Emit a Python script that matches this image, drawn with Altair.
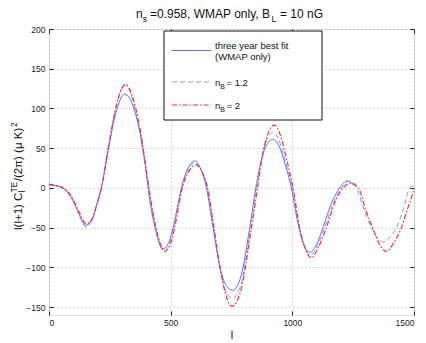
import altair as alt
import pandas as pd

# ---- data ----
l_fit = [0, 25, 50, 75, 100, 125, 150, 175, 200, 215, 243, 277, 311, 352, 393, 414, 440, 466, 490, 510,
         526, 544, 575, 599, 622, 647, 674, 700, 725, 755, 790, 825, 850, 875, 900, 920, 945, 970, 996,
         1020, 1045, 1072, 1100, 1126, 1160, 1195, 1225, 1250]
v_fit = [5, 3, 1, -5, -17, -34, -47, -41, -17, 0, 47, 97, 118, 97, 35, -15, -55, -77, -70, -50,
         -27, 0, 27, 34, 25, 0, -50, -96, -121, -129, -110, -50, 0, 38, 57, 61, 53, 30, 0,
         -40, -70, -81, -71, -50, -20, 0, 9, 4]

l_b12 = [0, 25, 50, 75, 100, 125, 150, 175, 200, 215, 243, 277, 300, 312, 328, 352, 378, 403, 428, 452,
         472, 492, 512, 527, 546, 577, 602, 624, 650, 676, 702, 728, 755, 790, 828, 853, 877, 902, 922,
         945, 972, 1000, 1025, 1050, 1075, 1102, 1133, 1168, 1202, 1230, 1263, 1295, 1325, 1350, 1373,
         1400, 1428, 1455, 1482, 1500]
v_b12 = [4, 3, 1, -5, -17, -35, -49, -42, -17, 0, 50, 103, 126, 130, 125, 101, 62, 10, -34, -66,
         -79, -73, -50, -27, 0, 25, 32, 24, 0, -50, -100, -131, -139, -120, -50, 0, 42, 65, 70,
         60, 33, 0, -44, -74, -84, -73, -50, -20, 0, 8, 0, -28, -50, -63, -68,
         -62, -50, -28, 0, 3]

l_b2 = [0, 25, 50, 75, 100, 125, 152, 175, 200, 216, 243, 277, 300, 314, 330, 355, 380, 405, 430, 455,
        475, 495, 515, 530, 548, 580, 606, 627, 652, 678, 705, 730, 752, 790, 832, 857, 880, 905, 926,
        950, 975, 1003, 1030, 1055, 1078, 1105, 1140, 1175, 1209, 1240, 1272, 1300, 1332, 1360, 1387,
        1415, 1448, 1475, 1500]
v_b2 = [4, 3, 1, -4, -15, -31, -45, -40, -17, 0, 49, 104, 126, 130, 125, 102, 64, 12, -36, -68,
        -80, -74, -52, -28, 0, 23, 29, 21, 0, -50, -104, -138, -149, -127, -50, 0, 45, 72, 79,
        67, 38, 0, -50, -78, -88, -76, -50, -18, 0, 6, 0, -26, -52, -72, -80,
        -70, -50, -25, -2]

x_ticks = [0, 500, 1000, 1500]
y_ticks = [-150, -100, -50, 0, 50, 100, 150, 200]

legend_fit_1 = "three year best fit"
legend_fit_2 = "(WMAP only)"
legend_b12 = "= 1.2"
legend_b2 = "= 2"

FONT = "Liberation Sans"
C_FIT = "#5d6dff"
C_B12 = "#8792ff"
C_B2 = "#ff2b2b"

df_fit = pd.DataFrame({"l": l_fit, "v": v_fit})
df_b12 = pd.DataFrame({"l": l_b12, "v": v_b12})
df_b2 = pd.DataFrame({"l": l_b2, "v": v_b2})
one = pd.DataFrame({"k": [0]})

xs = alt.Scale(domain=[0, 1500], nice=False, zero=False)
ys = alt.Scale(domain=[-160, 200], nice=False, zero=False)

x_main = alt.Axis(values=x_ticks, grid=True, gridDash=[1, 3], gridColor="#9a9a9a", gridWidth=0.8,
                  domain=False, ticks=True, tickSize=4, tickColor="#222", offset=-4, labelPadding=3,
                  labelFontSize=8.5, labelFont=FONT, labelColor="#222", format="d",
                  title="l", titleFont=FONT, titleFontSize=11, titleFontWeight="normal",
                  titleColor="#111", titlePadding=3)
y_main = alt.Axis(values=y_ticks, grid=True, gridDash=[1, 3], gridColor="#9a9a9a", gridWidth=0.8,
                  domain=False, ticks=True, tickSize=4, tickColor="#222", offset=-4, labelPadding=4,
                  labelFontSize=8.5, labelFont=FONT, labelColor="#222", format="d", title=None)
x_top = alt.Axis(orient="top", values=x_ticks, grid=False, domain=False, labels=False, tickSize=4,
                 tickColor="#222", offset=-4, title=None)
y_right = alt.Axis(orient="right", values=y_ticks, grid=False, domain=False, labels=False, tickSize=4,
                   tickColor="#222", offset=-4, title=None)

fit = alt.Chart(df_fit).mark_line(color=C_FIT, strokeWidth=1, interpolate="monotone").encode(
    x=alt.X("l:Q", scale=xs, axis=x_main), y=alt.Y("v:Q", scale=ys, axis=y_main))
b12 = alt.Chart(df_b12).mark_line(color=C_B12, strokeWidth=1, strokeDash=[5, 3],
                                   interpolate="monotone").encode(
    x=alt.X("l:Q", scale=xs, axis=None), y=alt.Y("v:Q", scale=ys, axis=None))
b2 = alt.Chart(df_b2).mark_line(color=C_B2, strokeWidth=1.2, strokeDash=[5, 2, 1.5, 2],
                                 interpolate="monotone").encode(
    x=alt.X("l:Q", scale=xs, axis=x_top), y=alt.Y("v:Q", scale=ys, axis=y_right))


def txt(s, x, y, size, angle=0, color="#111"):
    return alt.Chart(one).mark_text(text=s, font=FONT, fontSize=size, align="left",
                                    baseline="alphabetic", angle=angle, color=color).encode(
        x=alt.value(x), y=alt.value(y))


# legend box and samples
box = alt.Chart(one).mark_rect(fill="white", stroke="#111", strokeWidth=1).encode(
    x=alt.value(115), x2=alt.value(273), y=alt.value(2), y2=alt.value(91))
s_fit = alt.Chart(one).mark_rule(color=C_FIT, strokeWidth=1).encode(
    x=alt.value(123), x2=alt.value(162), y=alt.value(21.5))
s_b12 = alt.Chart(one).mark_rule(color=C_B12, strokeWidth=1, strokeDash=[5, 3]).encode(
    x=alt.value(123), x2=alt.value(162), y=alt.value(53))
s_b2 = alt.Chart(one).mark_rule(color=C_B2, strokeWidth=1.2, strokeDash=[5, 2, 1.5, 2]).encode(
    x=alt.value(123), x2=alt.value(162), y=alt.value(76))

legend_txt = [
    txt(legend_fit_1, 166, 19.5, 9.5), txt(legend_fit_2, 166, 31, 9.5),
    txt("n", 166, 56.5, 9.5), txt("B", 171.3, 59.5, 7), txt(legend_b12, 177.5, 56.5, 9.5),
    txt("n", 166, 79.5, 9.5), txt("B", 171.3, 82.5, 7), txt(legend_b2, 177.5, 79.5, 9.5),
]

# title with subscripts
title_txt = [
    txt("n", 87, -11, 12), txt("s", 93.8, -7, 8.5),
    txt("=0.958, WMAP only, B", 101, -11, 12), txt("L", 222.5, -7, 8.5),
    txt("= 10 nG", 231, -11, 12),
]

# rotated y label with sub/superscripts
ylab = [
    txt("l(l+1) C", -27, 201, 11.5, 270), txt("l", -24, 163.6, 8.5, 270),
    txt("TE", -32.5, 163.6, 8.5, 270), txt("/(2\u03c0) (\u03bc K)", -27, 152.3, 11.5, 270),
    txt("2", -32.5, 98, 8.5, 270),
]

chart = alt.layer(fit, b12, b2, box, s_fit, s_b12, s_b2, *legend_txt, *title_txt, *ylab).resolve_axis(
    x="independent", y="independent"
).properties(
    width=365, height=286, autosize=alt.AutoSizeParams(type="none"),
    padding={"left": 41, "top": 21, "right": 4, "bottom": 28},
).configure_view(stroke="#222", strokeWidth=1).configure(font=FONT, background="white")

chart.save("out.html", embed_options={"renderer": "svg", "actions": False})
